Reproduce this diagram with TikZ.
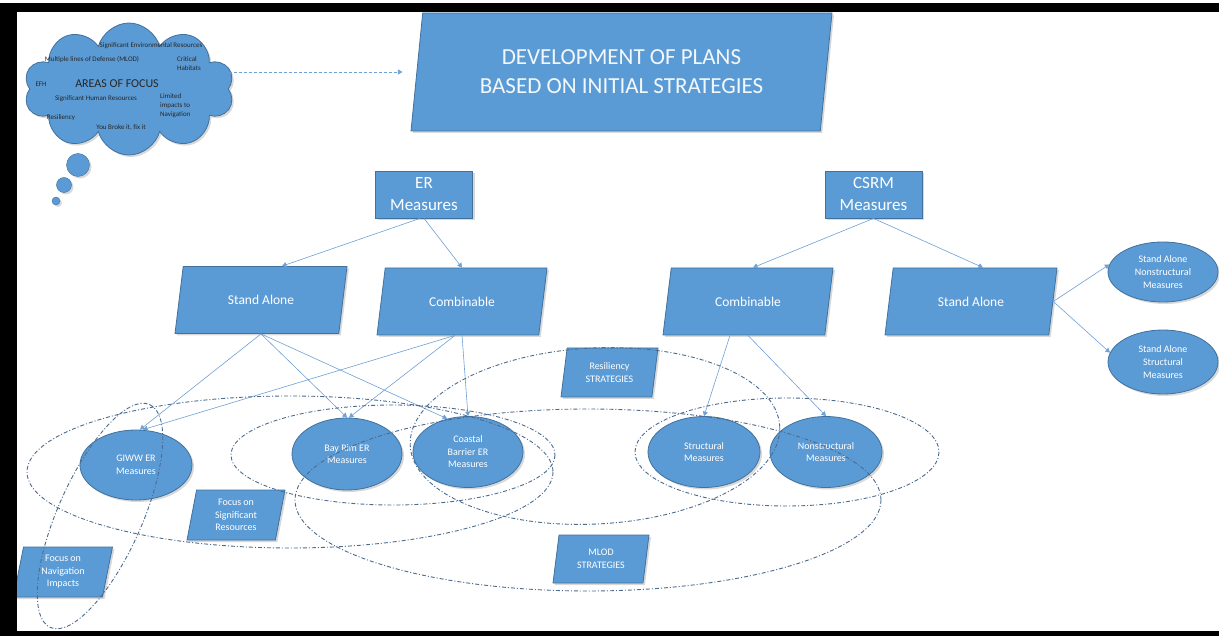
\documentclass[tikz,border=0pt]{standalone}
\usepackage{fontspec}
\setmainfont{Carlito}
\usetikzlibrary{shapes.geometric,shapes.symbols,shadows,arrows.meta}

\definecolor{boxblue}{HTML}{5B9BD5}
\definecolor{rimblue}{HTML}{41719C}
\definecolor{linkblue}{HTML}{6FA0D6}
\definecolor{groupblue}{HTML}{4C6B8E}

\tikzset{
  shade/.style={drop shadow={opacity=0.3,shadow xshift=2pt,shadow yshift=-2pt}},
  measbox/.style={rectangle, draw=rimblue, fill=boxblue, text=white, align=center, line width=0.8pt, shade},
  bigslant/.style={trapezium, trapezium left angle=63, trapezium right angle=117, trapezium stretches body, draw=rimblue, fill=boxblue, text=white, align=center, line width=0.8pt, shade},
  smallslant/.style={trapezium, trapezium left angle=74, trapezium right angle=106, trapezium stretches body, draw=rimblue, fill=boxblue, text=white, align=center, line width=0.8pt, inner sep=1pt, shade, font=\fontsize{10}{12.5}\selectfont},
  measoval/.style={ellipse, draw=rimblue, fill=boxblue, text=white, align=center, line width=0.8pt, inner sep=0pt, shade, font=\fontsize{10}{12.5}\selectfont},
  cloudtext/.style={text=black!85, align=left, inner sep=0pt, font=\fontsize{7}{9}\selectfont},
  link/.style={draw=linkblue, line width=0.6pt, -{Triangle[width=5pt,length=4.5pt]}},
  dashlink/.style={draw=linkblue, line width=0.6pt, dash pattern=on 3pt off 2pt, -{Triangle[width=5pt,length=4.5pt]}},
  groupring/.style={draw=groupblue, line width=0.9pt, dash pattern=on 4pt off 2pt on 1pt off 2pt},
}

\begin{document}
\begin{tikzpicture}[x=1pt,y=-1pt]
    \useasboundingbox (0,0) rectangle (1219,636);
    \fill[white] (0,0) rectangle (1219,636);

% thought cloud
    \node[cloud, cloud puffs=10, cloud ignores aspect, minimum width=210, minimum height=132, draw=rimblue, fill=boxblue, line width=0.8pt, shade] (focus) at (129,89) {};
    \draw[draw=rimblue, fill=boxblue, shade] (78,165) circle (11.5);
    \draw[draw=rimblue, fill=boxblue, shade] (64,185) circle (7.5);
    \draw[draw=rimblue, fill=boxblue, shade] (56,201) circle (4);

    \node[cloudtext] (envres) at (151,46) {Significant Environmental Resources};
    \node[cloudtext] (mlodtxt) at (92,60) {Multiple lines of Defense (MLOD)};
    \node[cloudtext] (habitat) at (189,64) {Critical\\Habitats};
    \node[cloudtext] (efh) at (41,84) {EFH};
    \node[cloudtext, font=\fontsize{12}{14}\selectfont] (areas) at (117,84) {AREAS OF FOCUS};
    \node[cloudtext] (humres) at (96,99) {Significant Human Resources};
    \node[cloudtext, anchor=west] (limnav) at (160,106) {Limited\\impacts to\\Navigation};
    \node[cloudtext] (resiltxt) at (61,118) {Resiliency};
    \node[cloudtext] (fixit) at (121,128) {You Broke it, fix it};

% title
    \node[trapezium, trapezium left angle=77, trapezium right angle=103, trapezium stretches body, draw=rimblue, fill=boxblue, text=white!92!boxblue, align=center, line width=0.8pt, shade, minimum width=421, minimum height=118, font=\fontsize{23}{29}\selectfont] (devplan) at (621.5,72) {DEVELOPMENT OF PLANS\\BASED ON INITIAL STRATEGIES};
    \draw[dashlink] (focus.east |- devplan.west) -- ([xshift=-14]devplan.west);

% measures
    \node[measbox, minimum width=97, minimum height=47, font=\fontsize{17}{22}\selectfont] (ermeas) at (424,194.5) {ER\\Measures};
    \node[measbox, minimum width=97, minimum height=47, font=\fontsize{17}{22}\selectfont] (csrmmeas) at (873.5,194.5) {CSRM\\Measures};

    \node[bigslant, minimum width=172, minimum height=67, font=\fontsize{13.5}{16}\selectfont] (erstand) at (261,300) {Stand Alone};
    \node[bigslant, minimum width=170, minimum height=67, font=\fontsize{13.5}{16}\selectfont] (ercomb) at (462,301.5) {Combinable};
    \node[bigslant, minimum width=170, minimum height=67, font=\fontsize{13.5}{16}\selectfont] (cscomb) at (748,301.5) {Combinable};
    \node[bigslant, minimum width=172, minimum height=67, font=\fontsize{13.5}{16}\selectfont] (csstand) at (971,301.5) {Stand Alone};

    \node[measoval, minimum width=110, minimum height=60, font=\fontsize{10}{13.3}\selectfont] (sanonstruct) at (1163,272) {Stand Alone\\Nonstructural\\Measures};
    \node[measoval, minimum width=110, minimum height=64, font=\fontsize{10}{13.3}\selectfont] (sastruct) at (1163,362) {Stand Alone\\Structural\\Measures};

    \node[measoval, minimum width=112, minimum height=70] (giww) at (136,465) {GIWW ER\\Measures};
    \node[measoval, minimum width=110, minimum height=72] (bayrim) at (347,454) {Bay Rim ER\\Measures};
    \node[measoval, minimum width=110, minimum height=71] (coastal) at (468,452) {Coastal\\Barrier ER\\Measures};
    \node[measoval, minimum width=112, minimum height=71] (struct) at (704,452) {Structural\\Measures};
    \node[measoval, minimum width=112, minimum height=71] (nonstruct) at (826,452) {Nonstructural\\Measures};

% strategies
    \node[smallslant, minimum width=97, minimum height=49] (resil) at (609.5,372.5) {Resiliency\\STRATEGIES};
    \node[smallslant, minimum width=96, minimum height=48] (mlod) at (601,559) {MLOD\\STRATEGIES};
    \node[smallslant, minimum width=98, minimum height=50] (sigres) at (236,515) {Focus on\\Significant\\Resources};
    \node[smallslant, minimum width=99, minimum height=50] (navimp) at (63,572) {Focus on\\Navigation\\Impacts};

% links
    \draw[link] ([xshift=-4]ermeas.south) -- ([xshift=21]erstand.north);
    \draw[link] (ermeas.south) -- (ercomb.north);
    \draw[link] (csrmmeas.south) -- ([xshift=5]cscomb.north);
    \draw[link] (csrmmeas.south) -- ([xshift=12]csstand.north);
    \draw[link] (csstand.east) -- (sanonstruct.172);
    \draw[link] (csstand.east) -- (sastruct.170);

    \draw[link] (erstand.south) -- ([xshift=4]giww.north);
    \draw[link] (erstand.south) -- (bayrim.north);
    \draw[link] (erstand.south) -- (coastal.122);
    \draw[link] ([xshift=-7]ercomb.south) -- ([xshift=7]giww.north);
    \draw[link] ([xshift=-7]ercomb.south) -- ([xshift=2]bayrim.north);
    \draw[link] (ercomb.south) -- (coastal.north);
    \draw[link] ([xshift=-18]cscomb.south) -- (struct.north);
    \draw[link] (cscomb.south) -- (nonstruct.north);

% groupings
    \draw[groupring] (290,472) ellipse [x radius=263, y radius=76];
    \draw[groupring] (393,455) ellipse [x radius=162, y radius=50];
    \draw[groupring, rotate around={3:(595,436)}] (595,436) ellipse [x radius=185, y radius=88];
    \draw[groupring] (588,500) ellipse [x radius=293, y radius=91];
    \draw[groupring] (787,452) ellipse [x radius=152, y radius=54];
    \draw[groupring, rotate around={66:(100,516)}] (100,516) ellipse [x radius=122, y radius=42];

% frame
    \fill[black] (0,3) rectangle (1219,12);
    \fill[black] (0,3) rectangle (17,636);
    \fill[black] (0,631) rectangle (1219,636);

\end{tikzpicture}
\end{document}
